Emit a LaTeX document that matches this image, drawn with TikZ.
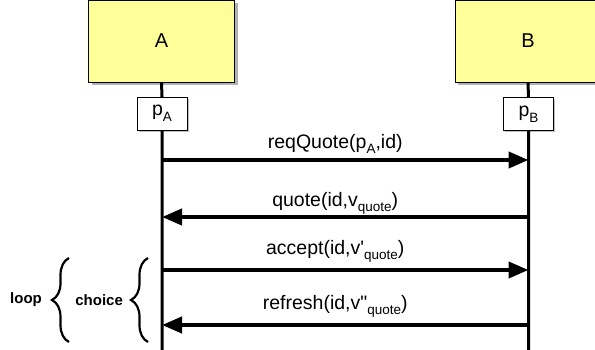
\documentclass[tikz,border=0pt]{standalone}
\usepackage{fontspec}
\setmainfont{Liberation Sans}
\usepackage{tikz}
\usetikzlibrary{
  arrows.meta,
  positioning,
  shadows,
  decorations.pathreplacing
}
\definecolor{lifeyellow}{RGB}{255,255,153}
\newcommand{\lowtxt}[1]{\raisebox{-0.55ex}{\fontsize{13.5}{13.5}\selectfont #1}}
\tikzset{
  party/.style = {rectangle, draw=black, fill=lifeyellow,
      minimum width=146pt, minimum height=82pt, inner sep=0pt,
      font=\fontsize{20}{22}\selectfont,
      drop shadow={shadow xshift=3pt, shadow yshift=-3pt,
        fill=gray!60, opacity=1}},
  port/.style = {rectangle, draw=black, thin, fill=white,
      minimum width=50pt, minimum height=33pt, inner sep=0pt,
      font=\fontsize{19.5}{22}\selectfont,
      drop shadow={shadow xshift=1.5pt, shadow yshift=-1.5pt,
        fill=gray!50, opacity=1}},
  lifeline/.style = {line width=3pt},
  msg/.style = {line width=4pt, -{Triangle[length=20pt, width=16pt]}},
  msglabel/.style = {midway, anchor=base, xshift=-10pt, yshift=#1,
      font=\fontsize{19.5}{22}\selectfont},
  msglabel/.default = 12pt, % baseline above the arrow
  group/.style = {decorate, decoration={brace, amplitude=#1},
      line width=2.2pt},
  group/.default = 17pt,
  grouplabel/.style = {midway, inner sep=0pt,
      font=\fontsize{15}{18}\selectfont\bfseries},
}

\begin{document}
\begin{tikzpicture}[x=1pt, y=-1pt]
  \useasboundingbox (0,0) rectangle (595,349);

  \node[party] (A) at (161.5,41) {A};
  \node[party] (B) at (528,41) {B};
  \node[port] (pA) at (162,113.5) {p\lowtxt{A}};
  \node[port] (pB) at (528.5,114) {p\lowtxt{B}};

  \coordinate (aend) at (162,352);
  \coordinate (bend) at (528.5,352);
  \draw[lifeline] (A.south) -- (pA.north) (pA.south) -- (aend);
  \draw[lifeline] (B.south) -- (pB.north) (pB.south) -- (bend);

  % messages
  \coordinate (a1) at (162,160);   \coordinate (b1) at (528.5,160);
  \coordinate (a2) at (162,217);   \coordinate (b2) at (528.5,217);
  \coordinate (a3) at (162,270);   \coordinate (b3) at (528.5,270);
  \coordinate (a4) at (162,325);   \coordinate (b4) at (528.5,325);

  \draw[msg] (a1) -- node[msglabel=12pt] {reqQuote(p\lowtxt{A},id)} (b1);
  \draw[msg] (b2) -- node[msglabel=11pt] {quote(id,v\lowtxt{quote})} (a2);
  \draw[msg] (a3) -- node[msglabel=16pt]
    {accept(id,v\textquotesingle\lowtxt{quote})} (b3);
  \draw[msg] (b4) -- node[msglabel=16pt]
    {refresh(id,v\textquotedbl\lowtxt{quote})} (a4);

  % fragments
  \coordinate (cbot) at (148,342);  \coordinate (ctop) at (148,258);
  \coordinate (lbot) at (69,342);   \coordinate (ltop) at (69,258);
  \draw[group] (cbot) -- node[grouplabel, left=24pt] (choice) {choice} (ctop);
  \draw[group] (lbot) -- node[grouplabel, left=26pt] (loop) {loop} (ltop);
\end{tikzpicture}
\end{document}
